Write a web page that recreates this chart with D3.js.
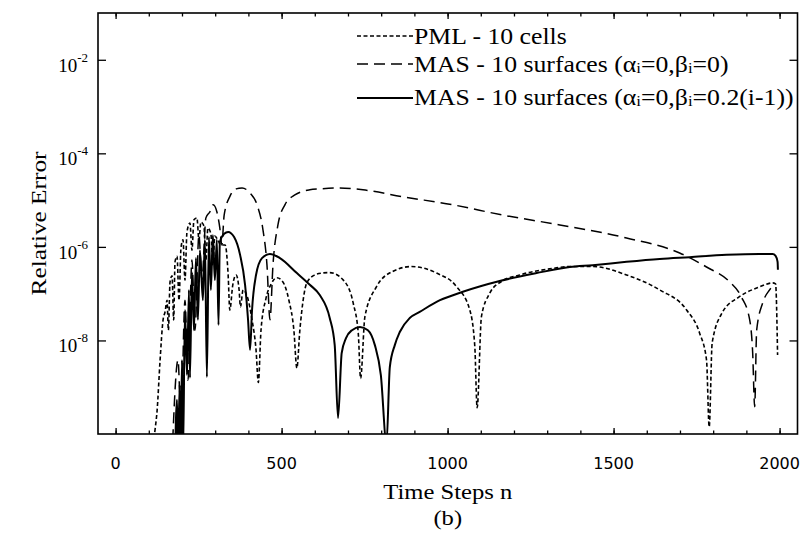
<!DOCTYPE html>
<html>
<head>
<meta charset="utf-8">
<script src="https://cdn.jsdelivr.net/npm/d3@7"></script>
<style>
  body { margin: 0; background: #fff; }
  .serif { font-family: "Liberation Serif", "Times New Roman", serif; fill: #000; }
  .xlab { font-family: "DejaVu Sans", sans-serif; font-size: 16px; fill: #000; }
</style>
</head>
<body>
<div id="chart"></div>
<script>
// PML - 10 cells (short dashes): time step, log10(relative error)
const pmlSteps = [104,119,125,134,143,149,155,159,164,170,175,179,185,191,197,203,209,215,224,230,
  236,245,251,257,266,272,278,287,293,299,308,317,330,339,344,353,363,372,376,384,
  396,411,423,430,438,453,468,486,504,522,537,546,555,576,600,621,645,686,716,731,
  738,751,786,836,891,967,1027,1067,1082,1089,1102,1127,1162,1217,1317,1368,1437,1539,1639,1720,
  1759,1780,1788,1797,1827,1878,1938,1979,1988,1994];
const pmlLogErr = [-10.5,-9.9,-9.5,-8.42,-7.56,-7.39,-7.14,-7.78,-6.75,-6.62,-7.56,-6.32,-6.2,-7.14,-6.02,-5.85,-6.71,-5.68,-5.49,-6.07,
  -5.42,-5.38,-5.85,-5.47,-5.55,-6.28,-5.6,-5.72,-6.39,-5.77,-5.85,-5.96,-5.96,-6.6,-7.35,-6.81,-6.6,-6.92,-7.28,-6.92,
  -7.05,-7.56,-8.2,-8.9,-7.78,-7.1,-6.8,-6.66,-6.75,-7.14,-7.78,-8.59,-7.78,-6.77,-6.6,-6.56,-6.55,-6.71,-7.21,-7.85,
  -8.81,-7.49,-6.85,-6.52,-6.42,-6.56,-6.85,-7.35,-8.13,-9.44,-7.49,-6.99,-6.74,-6.6,-6.46,-6.42,-6.42,-6.6,-6.92,-7.35,
  -7.84,-8.42,-9.85,-8.05,-7.41,-7.07,-6.86,-6.77,-6.79,-8.31];

// MAS - 10 surfaces (alpha=0, beta=0) (long dashes)
const mas0Steps = [170,188,197,209,218,230,239,251,260,272,284,294,305,314,320,327,345,363,381,405,
  426,444,456,465,474,489,510,540,585,615,675,745,866,1016,1166,1338,1539,1699,1780,1850,
  1885,1910,1919,1925,1931,1949,1970,1985];
const mas0LogErr = [-10.5,-8.42,-9.7,-7.14,-8.85,-6.28,-7.78,-5.75,-6.71,-5.38,-5.25,-5.1,-5.25,-5.6,-5.96,-5.32,-4.91,-4.76,-4.74,-4.85,
  -5.1,-5.64,-6.39,-7.56,-6.39,-5.53,-5.1,-4.89,-4.78,-4.76,-4.74,-4.78,-4.93,-5.1,-5.32,-5.53,-5.81,-6.13,-6.43,-6.75,
  -7.07,-7.56,-8.27,-9.42,-7.78,-7.2,-6.92,-6.81];

// MAS - 10 surfaces (alpha=0, beta=0.2(i-1)) (solid)
const masBSteps = [179,185,188,193,196,200,203,209,215,221,224,230,236,242,248,254,263,269,275,281,
  287,293,299,305,310,314,327,339,357,375,390,399,405,411,423,441,465,495,546,585,
  615,645,660,670,681,694,712,736,760,781,799,816,826,841,856,886,916,977,1046,1157,
  1268,1368,1437,1539,1639,1729,1840,1939,1979,1988,1994,1995];
const masBLogErr = [-10.5,-9.27,-10.5,-8.95,-10.5,-8.42,-10.5,-7.35,-8.74,-6.92,-8.8,-6.54,-7.78,-6.24,-7.56,-6.07,-7.14,-5.85,-8.78,-5.79,
  -6.92,-5.75,-6.71,-5.85,-7.67,-5.9,-5.72,-5.68,-5.79,-6.17,-6.81,-7.56,-8.2,-7.35,-6.6,-6.24,-6.15,-6.24,-6.56,-6.81,
  -7.03,-7.52,-8.1,-9.66,-8.27,-7.95,-7.78,-7.71,-7.78,-8.1,-8.74,-10.2,-8.57,-8.1,-7.82,-7.52,-7.39,-7.14,-6.96,-6.73,
  -6.56,-6.43,-6.39,-6.32,-6.26,-6.22,-6.17,-6.15,-6.15,-6.19,-6.32,-6.49];

const xMajorTicks = [0, 500, 1000, 1500, 2000];
const xMinorTicks = d3.range(0, 2001, 100);
const yTickExps = [-2, -4, -6, -8];

const width = 804, height = 535;
const margin = { top: 13, right: 6.5, bottom: 101, left: 98 };
const innerWidth = width - margin.left - margin.right;
const innerHeight = height - margin.top - margin.bottom;

// scales work in page coordinates so labels can sit at absolute positions
const xScale = d3.scaleLinear().domain([-53, 2054]).range([margin.left, margin.left + innerWidth]);
const yScale = d3.scaleLog().domain([1e-10, 1e-1]).range([margin.top + innerHeight, margin.top]);

const svg = d3.select("#chart").append("svg")
  .attr("width", width)
  .attr("height", height);

svg.append("clipPath").attr("id", "plot-clip")
  .append("rect")
  .attr("x", margin.left)
  .attr("y", margin.top)
  .attr("width", innerWidth)
  .attr("height", innerHeight);

// build series rows
function toRows(steps, logs) {
  return steps.map((n, i) => ({ n: n, v: Math.pow(10, logs[i]) }));
}
const series = [
  { name: "pml", rows: toRows(pmlSteps, pmlLogErr), dash: "4,2.5", w: 1.6 },
  { name: "mas0", rows: toRows(mas0Steps, mas0LogErr), dash: "11,6", w: 1.5 },
  { name: "masB", rows: toRows(masBSteps, masBLogErr), dash: null, w: 2 }
];

const line = d3.line()
  .x(d => xScale(d.n))
  .y(d => yScale(d.v))
  .curve(d3.curveMonotoneX);

const plot = svg.append("g").attr("clip-path", "url(#plot-clip)");
series.forEach(s => {
  plot.append("path")
    .datum(s.rows)
    .attr("fill", "none")
    .attr("stroke", "#000")
    .attr("stroke-width", s.w)
    .attr("stroke-dasharray", s.dash)
    .attr("stroke-linejoin", "round")
    .attr("d", line);
});

// axes: ticks only, pointing inward
function styleAxis(sel) {
  sel.select(".domain").remove();
  sel.selectAll(".tick line").attr("stroke", "#000").attr("stroke-width", 1.3);
}
const bottomY = margin.top + innerHeight;
const rightX = margin.left + innerWidth;

[[xMinorTicks, 3.5], [xMajorTicks, 6]].forEach(([vals, len]) => {
  svg.append("g")
    .attr("transform", `translate(0,${bottomY})`)
    .call(d3.axisBottom(xScale).tickValues(vals).tickSize(-len).tickFormat(""))
    .call(styleAxis);
  svg.append("g")
    .attr("transform", `translate(0,${margin.top})`)
    .call(d3.axisTop(xScale).tickValues(vals).tickSize(-len).tickFormat(""))
    .call(styleAxis);
});

const yTicks = yTickExps.map(e => Math.pow(10, e));
svg.append("g")
  .attr("transform", `translate(${margin.left},0)`)
  .call(d3.axisLeft(yScale).tickValues(yTicks).tickSize(-8).tickFormat(""))
  .call(styleAxis);
svg.append("g")
  .attr("transform", `translate(${rightX},0)`)
  .call(d3.axisRight(yScale).tickValues(yTicks).tickSize(-8).tickFormat(""))
  .call(styleAxis);

// x tick labels
svg.selectAll(".xlab")
  .data(xMajorTicks)
  .join("text")
  .attr("class", "xlab")
  .attr("x", d => xScale(d))
  .attr("y", bottomY + 35)
  .attr("text-anchor", "middle")
  .text(d => d);

// y tick labels: 10 with superscript exponent
yTickExps.forEach(e => {
  const t = svg.append("text")
    .attr("class", "serif")
    .attr("x", margin.left - 10)
    .attr("y", yScale(Math.pow(10, e)) + 12)
    .attr("text-anchor", "end");
  t.append("tspan").attr("font-size", 19).text("10");
  t.append("tspan").attr("font-size", 13).attr("dy", -10).text(String(e));
});

// frame
svg.append("rect")
  .attr("x", margin.left)
  .attr("y", margin.top)
  .attr("width", innerWidth)
  .attr("height", innerHeight)
  .attr("fill", "none")
  .attr("stroke", "#000")
  .attr("stroke-width", 1.6);

// axis titles (the scan's type runs a little wide)
const cx = margin.left + innerWidth / 2;
svg.append("text")
  .attr("class", "serif")
  .attr("transform", `translate(${cx},499) scale(1.12,1)`)
  .attr("text-anchor", "middle")
  .attr("font-size", 22)
  .text("Time Steps n");
svg.append("text")
  .attr("class", "serif")
  .attr("transform", `translate(${cx},525) scale(1.12,1)`)
  .attr("text-anchor", "middle")
  .attr("font-size", 22)
  .text("(b)");
svg.append("text")
  .attr("class", "serif")
  .attr("transform", `translate(46,${margin.top + innerHeight / 2}) rotate(-90) scale(1.15,1)`)
  .attr("text-anchor", "middle")
  .attr("font-size", 22)
  .text("Relative Error");

// legend
const legendRows = [
  { y: 44, ly: 36, dash: "4,2.5", w: 1.6, parts: [["PML - 10 cells", 0]] },
  { y: 72, ly: 64, dash: "11,6", w: 1.5,
    parts: [["MAS - 10 surfaces (α", 0], ["i", 1], ["=0,β", 0], ["i", 1], ["=0)", 0]] },
  { y: 105, ly: 98, dash: null, w: 2,
    parts: [["MAS - 10 surfaces (α", 0], ["i", 1], ["=0,β", 0], ["i", 1], ["=0.2(i-1))", 0]] }
];
const legend = svg.append("g");
legendRows.forEach(r => {
  legend.append("line")
    .attr("x1", 357).attr("x2", 413)
    .attr("y1", r.ly).attr("y2", r.ly)
    .attr("stroke", "#000")
    .attr("stroke-width", r.w)
    .attr("stroke-dasharray", r.dash);
  const t = legend.append("text")
    .attr("class", "serif")
    .attr("transform", `translate(414,${r.y}) scale(1.12,1)`)
    .attr("font-size", 23);
  let shifted = false;
  r.parts.forEach(p => {
    const ts = t.append("tspan").text(p[0]);
    if (p[1]) { ts.attr("font-size", 15).attr("dy", 1); shifted = true; }
    else if (shifted) { ts.attr("dy", -1); shifted = false; }
  });
});
</script>
</body>
</html>
